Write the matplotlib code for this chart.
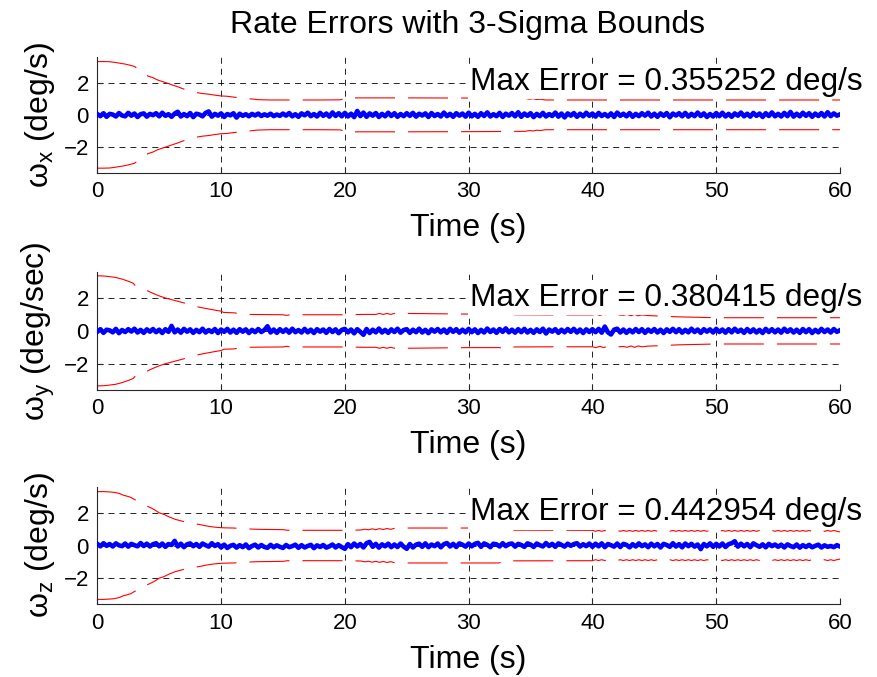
import numpy as np
import matplotlib
matplotlib.use('Agg')
import matplotlib.pyplot as plt

plt.rcParams['font.family'] = ['Liberation Sans', 'DejaVu Sans']
plt.rcParams['mathtext.fontset'] = 'custom'
plt.rcParams['mathtext.rm'] = 'Liberation Sans'
plt.rcParams['mathtext.it'] = 'Liberation Sans:italic'
plt.rcParams['lines.scale_dashes'] = False

# ---------------- data ----------------
title = 'Rate Errors with 3-Sigma Bounds'
xlabel = 'Time (s)'
ylabels = [r'$\mathregular{\omega_x}$ (deg/s)',
           r'$\mathregular{\omega_y}$ (deg/sec)',
           r'$\mathregular{\omega_z}$ (deg/s)']
max_errors = ['0.355252', '0.380415', '0.442954']
xticks = [0, 10, 20, 30, 40, 50, 60]
yticks = [-2, 0, 2]

n_samples = 241
sample_dt = 0.25
time = np.arange(n_samples) * sample_dt

err_x = [
    0.05, -0.08, 0.10, -0.12, 0.06, 0.02, -0.10, 0.11, -0.04, -0.09, 0.12, -0.05, 0.08, -0.13, 0.04, 0.09, -0.11, 0.06, -0.02, 0.10,
    -0.09, 0.13, -0.06, 0.04, -0.12, 0.08, 0.19, -0.10, 0.05, -0.08, 0.11, -0.14, 0.07, 0.02, -0.09, 0.12, 0.21, -0.11, 0.06, -0.05,
    0.09, -0.13, 0.05, -0.03, 0.10, -0.17, 0.07, -0.06, 0.04, -0.09, 0.06, -0.04, 0.08, -0.07, 0.03, -0.05, 0.07, -0.08, 0.02, -0.06,
    0.08, -0.05, 0.11, -0.09, 0.04, -0.12, 0.09, -0.03, 0.13, -0.08, 0.05, -0.10, 0.12, -0.06, 0.08, -0.11, 0.15, -0.07, 0.10, -0.09,
    0.12, -0.10, 0.07, -0.14, 0.24, -0.08, 0.14, -0.12, 0.09, -0.05, 0.11, -0.13, 0.06, -0.09, 0.13, -0.07, 0.10, -0.12, 0.05, -0.08,
    0.10, -0.06, 0.12, -0.11, 0.07, -0.04, 0.09, -0.13, 0.11, -0.07, 0.05, -0.10, 0.14, -0.08, 0.06, -0.12, 0.10, -0.05, 0.08, -0.11,
    0.13, -0.09, 0.06, -0.12, 0.10, -0.07, 0.15, -0.10, 0.04, -0.08, 0.12, -0.13, 0.07, -0.05, 0.11, -0.09, 0.16, -0.12, 0.08, -0.06,
    0.10, -0.14, 0.06, -0.08, 0.12, -0.10, 0.05, -0.07, 0.14, -0.11, 0.08, -0.16, 0.09, -0.05, 0.11, -0.12, 0.07, -0.09, 0.13, -0.06,
    0.08, -0.11, 0.12, -0.07, 0.05, -0.10, 0.09, -0.13, 0.14, -0.06, 0.07, -0.09, 0.11, -0.12, 0.06, -0.08, 0.10, -0.05, 0.13, -0.10,
    0.07, -0.12, 0.09, -0.06, 0.11, -0.15, 0.08, -0.04, 0.10, -0.09, 0.12, -0.11, 0.06, -0.08, 0.14, -0.07, 0.09, -0.13, 0.05, -0.10,
    0.11, -0.08, 0.13, -0.10, 0.06, -0.12, 0.09, -0.05, 0.14, -0.09, 0.07, -0.11, 0.12, -0.06, 0.08, -0.13, 0.10, -0.07, 0.15, -0.09,
    0.06, -0.10, 0.12, -0.08, 0.18, -0.11, 0.07, -0.09, 0.13, -0.06, 0.10, -0.12, 0.08, -0.07, 0.11, -0.10, 0.16, -0.08, 0.09, -0.05,
    0.03]

err_y = [
    -0.06, 0.10, -0.12, 0.07, 0.03, -0.09, 0.12, -0.14, 0.05, -0.07, 0.10, -0.04, 0.13, -0.10, 0.06, -0.12, 0.09, -0.05, 0.11, -0.08,
    0.07, -0.13, 0.10, -0.06, 0.30, -0.09, 0.08, -0.11, 0.12, -0.05, 0.09, -0.12, 0.06, -0.08, 0.13, -0.10, 0.05, -0.07, 0.11, -0.13,
    0.08, -0.06, 0.12, -0.10, 0.07, -0.12, 0.10, -0.05, 0.09, -0.13, 0.06, -0.08, 0.11, -0.07, 0.05, 0.28, -0.10, 0.08, -0.12, 0.10,
    -0.06, 0.09, -0.11, 0.13, -0.08, 0.05, -0.10, 0.12, -0.09, 0.07, -0.13, 0.10, -0.05, 0.08, -0.12, 0.11, -0.07, 0.09, -0.14, 0.06,
    0.12, -0.09, 0.08, -0.15, 0.10, -0.06, -0.24, 0.11, -0.13, 0.07, -0.09, 0.14, -0.10, 0.06, -0.12, 0.09, -0.07, 0.13, -0.11, 0.05,
    0.10, -0.12, 0.07, -0.08, 0.13, -0.10, 0.06, -0.14, 0.09, -0.05, 0.11, -0.09, 0.08, -0.12, 0.12, -0.06, 0.10, -0.11, 0.07, -0.09,
    0.12, -0.08, 0.09, -0.13, 0.06, -0.10, 0.14, -0.07, 0.08, -0.12, 0.11, -0.06, 0.15, -0.09, 0.07, -0.11, 0.10, -0.08, 0.12, -0.10,
    0.06, -0.12, 0.09, -0.07, 0.13, -0.16, 0.08, -0.05, 0.10, -0.12, 0.07, -0.09, 0.11, -0.06, 0.12, -0.10, 0.08, -0.13, 0.09, -0.07,
    0.10, -0.08, 0.12, -0.11, 0.26, -0.09, -0.22, 0.07, 0.13, -0.10, 0.08, -0.12, 0.06, -0.09, 0.11, -0.07, 0.10, -0.12, 0.08, -0.06,
    0.11, -0.10, 0.07, -0.13, 0.09, -0.06, 0.12, -0.08, 0.10, -0.11, 0.06, -0.09, 0.13, -0.07, 0.08, -0.12, 0.10, -0.05, 0.09, -0.10,
    0.12, -0.07, 0.08, -0.11, 0.10, -0.09, 0.13, -0.06, 0.07, -0.12, 0.11, -0.08, 0.09, -0.10, 0.06, -0.13, 0.12, -0.07, 0.10, -0.09,
    0.08, -0.11, 0.13, -0.06, 0.09, -0.10, 0.07, -0.12, 0.11, -0.08, 0.10, -0.13, 0.06, -0.09, 0.12, -0.07, 0.08, -0.10, 0.11, -0.06,
    0.04]

err_z = [
    0.10, -0.05, 0.14, -0.02, 0.09, -0.06, 0.13, 0.01, -0.04, 0.12, -0.07, 0.10, 0.02, -0.05, 0.15, -0.03, 0.11, -0.06, 0.08, 0.14,
    -0.05, 0.12, -0.08, 0.09, 0.03, 0.28, -0.06, 0.11, -0.10, 0.07, 0.13, -0.04, 0.09, -0.08, 0.12, 0.02, -0.07, 0.14, -0.03, 0.08,
    -0.12, 0.05, -0.15, -0.02, 0.04, -0.13, 0.02, -0.10, 0.06, -0.16, -0.03, 0.05, -0.12, 0.03, -0.09, -0.14, 0.04, -0.11, 0.01, -0.08,
    -0.15, 0.03, -0.10, -0.04, 0.05, -0.14, 0.02, -0.12, -0.03, 0.04, -0.16, 0.01, -0.09, 0.03, -0.13, -0.05, 0.06, -0.12, 0.02, -0.10,
    -0.20, 0.08, -0.10, 0.12, -0.06, 0.09, -0.12, 0.14, 0.22, -0.08, 0.10, -0.13, 0.07, -0.05, 0.11, -0.10, 0.06, -0.09, 0.12, -0.07,
    -0.20, 0.09, -0.12, 0.05, 0.11, -0.08, 0.13, -0.10, 0.06, -0.04, 0.12, -0.11, 0.08, 0.15, -0.06, 0.10, -0.09, 0.13, 0.05, -0.07,
    0.12, -0.05, 0.10, 0.16, -0.08, 0.13, 0.04, -0.10, 0.11, 0.07, -0.06, 0.14, -0.04, 0.09, 0.12, -0.07, 0.10, 0.03, -0.08, 0.13,
    0.06, -0.09, 0.12, 0.02, -0.06, 0.15, -0.03, 0.10, -0.08, 0.13, 0.04, -0.07, 0.11, -0.02, 0.09, 0.14, -0.06, 0.08, -0.04, 0.12,
    -0.08, 0.11, -0.05, 0.13, -0.10, 0.09, 0.02, -0.07, 0.12, -0.09, 0.10, 0.04, -0.11, 0.08, -0.06, 0.13, -0.04, 0.07, -0.10, 0.11,
    -0.05, 0.09, -0.12, 0.10, 0.03, -0.08, 0.14, -0.06, 0.08, -0.11, 0.12, -0.04, 0.10, -0.07, 0.06, -0.22, 0.09, -0.05, 0.13, -0.08,
    0.10, -0.06, 0.12, -0.09, 0.08, 0.14, 0.26, -0.07, 0.11, -0.05, 0.09, -0.10, 0.13, 0.02, -0.08, 0.07, -0.11, 0.10, -0.04, 0.06,
    -0.08, 0.05, -0.12, 0.07, -0.03, -0.10, 0.06, -0.13, 0.02, -0.09, 0.04, -0.11, -0.02, 0.05, -0.12, 0.01, -0.08, -0.03, -0.10, 0.02,
    -0.06]

# 3-sigma bound (upper; lower bound is its mirror)
bound_t_x = [0, 0.5, 1.0, 1.4, 1.8, 2.2, 2.6, 3.0, 3.3, 3.7, 4.1, 4.5, 4.9, 5.3, 5.7, 6.1, 6.5, 6.9, 7.3, 7.7,
             8.1, 8.5, 9.0, 9.5, 10.0, 10.5, 11.0, 11.5, 12.0, 12.5, 13.0, 14.0, 16.0, 18.0, 19.6, 19.8, 20.0, 20.2, 20.4, 25.0,
             30.0, 34.6, 34.9, 35.2, 35.5, 35.8, 36.2, 40.0, 50.0, 60.0]
bound_v_x = [3.30, 3.30, 3.29, 3.25, 3.20, 3.15, 3.08, 3.00, 2.82, 2.62, 2.40, 2.30, 2.15, 2.05, 1.95, 1.84, 1.74, 1.62, 1.52, 1.43,
             1.37, 1.32, 1.28, 1.22, 1.17, 1.15, 1.10, 1.06, 1.02, 0.98, 0.94, 0.92, 0.92, 0.92, 0.93, 0.97, 1.04, 0.98, 1.05, 1.05,
             1.04, 1.02, 0.97, 1.00, 0.95, 0.97, 0.92, 0.92, 0.92, 0.92]

bound_t_y = [0, 0.5, 1.0, 1.5, 2.0, 2.5, 2.9, 3.1, 3.5, 3.9, 4.3, 4.7, 5.1, 5.5, 6.0, 6.5, 7.0, 7.5, 8.0, 8.5,
             9.0, 9.5, 10.0, 10.2, 11.0, 12.0, 15.0, 15.3, 15.6, 16.0, 20.0, 21.5, 22.5, 22.8, 23.1, 23.4, 23.7, 24.0, 24.3, 24.6,
             25.0, 30.0, 32.5, 32.8, 33.1, 33.4, 33.7, 37.0, 40.0, 40.3, 40.6, 40.9, 41.2, 41.5, 42.5, 42.8, 43.1, 43.4, 43.7, 44.0,
             44.5, 47.0, 50.0, 60.0]
bound_v_y = [3.35, 3.34, 3.30, 3.25, 3.15, 3.02, 2.90, 2.72, 2.62, 2.50, 2.35, 2.22, 2.10, 2.00, 1.90, 1.80, 1.70, 1.60, 1.48, 1.40,
             1.33, 1.26, 1.20, 1.12, 1.10, 1.00, 0.98, 0.94, 0.98, 0.98, 0.98, 1.00, 1.00, 1.06, 1.00, 1.06, 1.00, 1.06, 1.00, 1.06,
             1.06, 1.02, 1.02, 1.07, 1.00, 1.05, 0.98, 0.97, 0.97, 1.02, 0.94, 1.02, 0.94, 1.00, 0.95, 1.00, 0.92, 1.00, 0.92, 0.97,
             0.93, 0.85, 0.80, 0.80]

bound_t_z = [0, 0.5, 1.0, 1.4, 1.8, 2.1, 2.4, 2.7, 3.0, 3.4, 3.8, 4.2, 4.6, 5.0, 5.4, 5.8, 6.3, 6.8, 7.3, 7.8,
             8.3, 8.8, 9.3, 9.8, 10.3, 11.0, 12.0, 13.0, 15.0, 15.4, 15.7, 16.0, 20.0, 20.3, 21.3, 21.6, 21.9, 22.2, 22.5, 22.8,
             23.1, 23.4, 23.7, 24.0, 24.3, 25.0, 32.4, 32.7, 33.0, 33.3, 33.6, 40.0,
             40.25, 40.5, 40.75, 41.0, 41.25, 41.5, 41.75, 42.0, 42.25, 42.5, 42.75, 43.0, 43.25, 43.5, 43.75, 44.0,
             44.25, 44.5, 44.75, 45.0, 45.25, 45.5, 45.75, 46.0, 46.25, 46.5, 46.75, 47.0, 47.25, 47.5, 47.75, 48.0,
             48.25, 48.5, 48.75, 49.0, 49.25, 49.5, 49.75, 50.0, 50.25, 50.5, 50.75, 51.0, 51.25, 51.5, 51.75, 52.0,
             52.25, 52.5, 52.75, 53.0, 53.25, 53.5, 53.75, 54.0, 54.25, 54.5, 54.75, 55.0, 55.25, 55.5, 55.75, 56.0,
             56.25, 56.5, 56.75, 57.0, 57.25, 57.5, 57.75, 58.0, 58.25, 58.5, 58.75, 59.0, 59.25, 59.5, 59.75, 60.0]
bound_v_z = [3.30, 3.30, 3.28, 3.25, 3.18, 3.08, 3.02, 2.95, 2.82, 2.65, 2.47, 2.35, 2.20, 2.00, 1.90, 1.75, 1.60, 1.50, 1.40, 1.34,
             1.28, 1.20, 1.14, 1.10, 1.08, 1.07, 1.02, 0.99, 0.97, 0.93, 0.95, 0.93, 0.93, 0.93, 0.95, 1.00, 0.96, 1.02, 0.97, 1.03,
             0.98, 1.04, 0.99, 1.05, 1.06, 1.07, 1.07, 1.02, 1.07, 1.00, 0.94, 0.93,
             0.87, 0.92, 0.87, 0.92, 0.87, 0.92, 0.87, 0.92, 0.87, 0.92, 0.87, 0.92, 0.87, 0.92, 0.87, 0.92,
             0.87, 0.92, 0.87, 0.92, 0.87, 0.92, 0.87, 0.92, 0.87, 0.92, 0.87, 0.92, 0.87, 0.92, 0.87, 0.92,
             0.87, 0.92, 0.87, 0.92, 0.87, 0.92, 0.87, 0.92, 0.87, 0.92, 0.87, 0.92, 0.87, 0.92, 0.87, 0.92,
             0.87, 0.92, 0.87, 0.92, 0.87, 0.92, 0.87, 0.92, 0.87, 0.92, 0.87, 0.92, 0.87, 0.92, 0.87, 0.92,
             0.87, 0.92, 0.87, 0.92, 0.87, 0.92, 0.87, 0.92, 0.87, 0.92, 0.87, 0.92, 0.87, 0.92, 0.87, 0.83]

errors = [err_x, err_y, err_z]
bounds_t = [bound_t_x, bound_t_y, bound_t_z]
bounds_v = [bound_v_x, bound_v_y, bound_v_z]

# ---------------- layout ----------------
W, H = 877, 677
fig = plt.figure(figsize=(W / 100, H / 100), dpi=100)
ax_left, ax_right = 97.3, 840.0
ax_tops = [56.7, 271.7, 486.7]
ax_bottoms = [173.0, 390.0, 604.3]

spine_col = '#262626'
for i in range(3):
    ax = fig.add_axes([ax_left / W, 1 - ax_bottoms[i] / H,
                       (ax_right - ax_left) / W, (ax_bottoms[i] - ax_tops[i]) / H])
    ax.plot(time, errors[i], color=(0, 0, 1), lw=3.3, zorder=3)
    bt = np.array(bounds_t[i])
    bv = np.array(bounds_v[i])
    ax.plot(bt, bv, color='red', lw=0.8, ls=(0, (28.8, 9.4)), zorder=2.5)
    ax.plot(bt, -bv, color='red', lw=0.8, ls=(0, (28.8, 9.4)), zorder=2.5)

    ax.set_xlim(0, 60)
    ax.set_ylim(-3.6, 3.6)
    ax.set_xticks(xticks)
    ax.set_yticks(yticks)
    ax.grid(True, color='k', lw=0.6, linestyle=(0, (4.3, 3.6)))
    for s in ['top', 'right']:
        ax.spines[s].set_visible(False)
    for s in ['left', 'bottom']:
        ax.spines[s].set_color(spine_col)
        ax.spines[s].set_linewidth(0.8)
    ax.tick_params(direction='in', length=4, width=0.8, labelsize=16, pad=6,
                   colors=spine_col, labelcolor='black')
    ax.set_xlabel(xlabel, fontsize=23, labelpad=8)
    ax.set_ylabel(ylabels[i], fontsize=23, labelpad=5)
    ax.text(0.502, 0.714, 'Max Error = ' + max_errors[i] + ' deg/s',
            transform=ax.transAxes, fontsize=22.7, ha='left', va='baseline',
            bbox=dict(facecolor='white', edgecolor='none', pad=1.5), zorder=5)

fig.text(468 / W, 1 - 25 / H, title, ha='center', va='center', fontsize=23)

fig.savefig('out.png', dpi=100)
